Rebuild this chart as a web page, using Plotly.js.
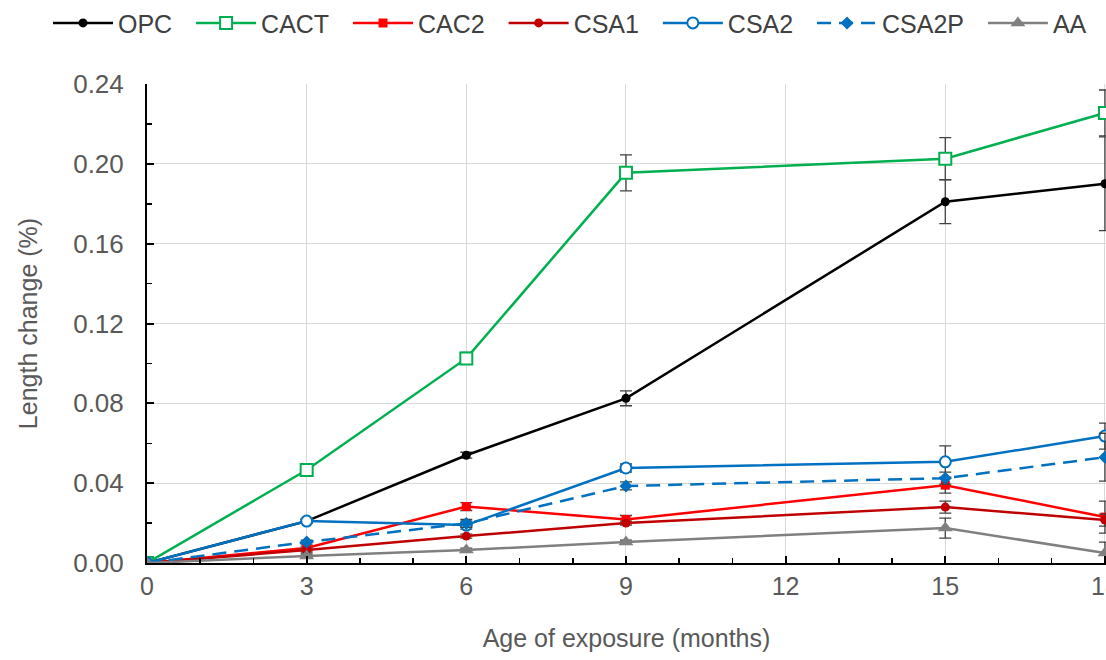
<!DOCTYPE html>
<html>
<head>
<meta charset="utf-8">
<script src="https://cdn.plot.ly/plotly-3.0.1.min.js"></script>
<style>html,body{margin:0;padding:0;background:#fff;}#chart{width:1106px;height:660px;}</style>
</head>
<body>
<div id="chart"></div>
<script>
// Age of exposure (months)
var months = [0, 3, 6, 9, 15, 18];

// Series names (legend order)
var names = ['OPC', 'CACT', 'CAC2', 'CSA1', 'CSA2', 'CSA2P', 'AA'];

// Length change (%) per mix
var OPC   = [0, 0.021, 0.054, 0.0825, 0.181, 0.190];
var CACT  = [0, 0.0466, 0.1025, 0.1955, 0.2026, 0.2255];
var CAC2  = [0, 0.0075, 0.0283, 0.0218, 0.039, 0.023];
var CSA1  = [0, 0.0065, 0.0135, 0.0200, 0.028, 0.0215];
var CSA2  = [0, 0.021, 0.0190, 0.0476, 0.0507, 0.0636];
var CSA2P = [0, 0.0105, 0.0198, 0.0386, 0.0425, 0.053];
var AA    = [0, 0.0035, 0.0065, 0.0105, 0.0175, 0.005];

// Error (± %)
var OPC_err   = [0, 0.001, 0.0015, 0.0037, 0.011, 0.0235];
var CACT_err  = [0, 0.001, 0.003, 0.009, 0.0105, 0.0115];
var CAC2_err  = [0, 0.001, 0.002, 0.002, 0.004, 0.008];
var CSA1_err  = [0, 0.001, 0.001, 0.001, 0.003, 0.003];
var CSA2_err  = [0, 0.001, 0.002, 0.002, 0.008, 0.0065];
var CSA2P_err = [0, 0.001, 0.002, 0.002, 0.003, 0.012];
var AA_err    = [0, 0.001, 0.001, 0.001, 0.005, 0.0055];

var xTicks = [0, 3, 6, 9, 12, 15, 18];
var yTicks = [0, 0.04, 0.08, 0.12, 0.16, 0.20, 0.24];

var PAD = '\u00a0\u00a0';

function err(a) {
  return {type: 'data', array: a, visible: true, color: '#404040', thickness: 1.3, width: 6};
}
function tr(name, y, e, color, marker, dash) {
  return {
    x: months, y: y, name: name + PAD, type: 'scatter', mode: 'lines+markers',
    line: {color: color, width: 2.5, dash: dash || 'solid'},
    marker: marker, error_y: err(e), cliponaxis: true
  };
}

var data = [
  tr(names[0], OPC, OPC_err, '#000000', {symbol: 'circle', size: 9, color: '#000000'}),
  tr(names[1], CACT, CACT_err, '#00B050', {symbol: 'square', size: 12, color: '#ffffff', line: {color: '#00B050', width: 2}}),
  tr(names[2], CAC2, CAC2_err, '#FF0000', {symbol: 'square', size: 9, color: '#FF0000'}),
  tr(names[3], CSA1, CSA1_err, '#C00000', {symbol: 'circle', size: 9, color: '#C00000'}),
  tr(names[4], CSA2, CSA2_err, '#0070C0', {symbol: 'circle', size: 11, color: '#ffffff', line: {color: '#0070C0', width: 2}}),
  tr(names[5], CSA2P, CSA2P_err, '#0070C0', {symbol: 'diamond', size: 10, color: '#0070C0'}, '14px,8px'),
  tr(names[6], AA, AA_err, '#808080', {symbol: 'triangle-up', size: 13, color: '#808080'})
];

var txt = {family: 'Liberation Sans, Arial, sans-serif', size: 25, color: '#595959'};

var layout = {
  width: 1106, height: 660,
  margin: {l: 147, r: 0, t: 84, b: 97, pad: 0},
  paper_bgcolor: '#ffffff', plot_bgcolor: '#ffffff',
  font: txt,
  showlegend: true,
  legend: {
    orientation: 'h', x: -0.079, xanchor: 'left', y: 1.175, yanchor: 'top',
    font: {family: 'Liberation Sans, Arial, sans-serif', size: 25, color: '#404040'},
    itemwidth: 60, tracegroupgap: 0, bgcolor: 'rgba(0,0,0,0)'
  },
  xaxis: {
    range: [0, 18.02], tickvals: xTicks, ticktext: xTicks.map(String),
    showgrid: true, gridcolor: '#D9D9D9', gridwidth: 1, zeroline: false,
    showline: true, linecolor: '#000000', linewidth: 2,
    ticks: 'inside', ticklen: 7, tickwidth: 2, tickcolor: '#000000',
    minor: {dtick: 1, tick0: 0, ticks: 'inside', ticklen: 5, tickwidth: 1.5, tickcolor: '#000000', showgrid: false},
    tickfont: {family: 'Liberation Sans, Arial, sans-serif', size: 25, color: '#595959'},
    ticklabelstandoff: 0, ticklabeloverflow: 'allow',
    title: {text: 'Age of exposure (months)', font: txt, standoff: 30},
    automargin: false
  },
  yaxis: {
    range: [0, 0.24], tickvals: yTicks, ticktext: yTicks.map(function(v){return v.toFixed(2);}),
    showgrid: true, gridcolor: '#D9D9D9', gridwidth: 1, zeroline: false,
    showline: true, linecolor: '#000000', linewidth: 2,
    ticks: 'inside', ticklen: 7, tickwidth: 2, tickcolor: '#000000',
    minor: {dtick: 0.02, tick0: 0, ticks: 'inside', ticklen: 5, tickwidth: 1.5, tickcolor: '#000000', showgrid: false},
    tickfont: {family: 'Liberation Sans, Arial, sans-serif', size: 26, color: '#595959'},
    ticklabelstandoff: 16,
    title: {text: 'Length change (%)', font: txt, standoff: 28},
    automargin: false
  }
};

Plotly.newPlot('chart', data, layout, {displayModeBar: false, staticPlot: true});
</script>
</body>
</html>
